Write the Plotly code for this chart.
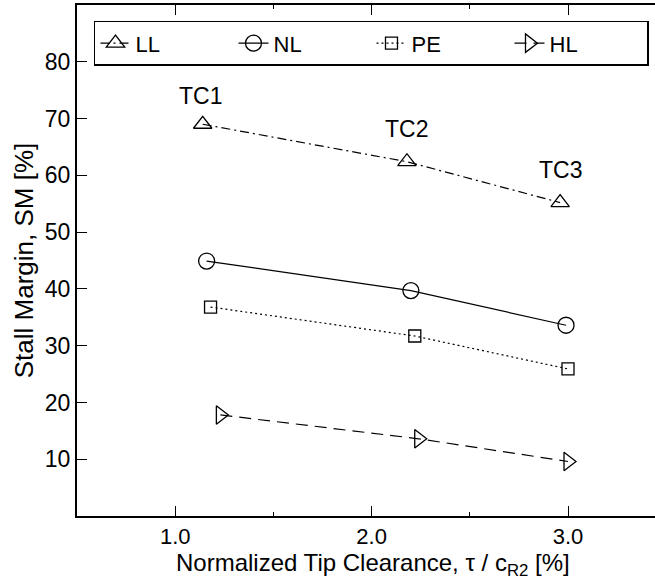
import plotly.graph_objects as go

# ---- data ----
series_names = ["LL", "NL", "PE", "HL"]
ll_x = [1.14, 2.18, 2.96]
ll_y = [69.0, 62.4, 55.2]
nl_x = [1.16, 2.20, 2.99]
nl_y = [44.9, 39.7, 33.6]
pe_x = [1.18, 2.22, 3.00]
pe_y = [36.8, 31.7, 25.9]
hl_x = [1.23, 2.24, 3.00]
hl_y = [17.8, 13.6, 9.6]

tc_labels = ["TC1", "TC2", "TC3"]
tc_x = [1.13, 2.18, 2.96]
tc_y = [74.0, 68.2, 60.9]

x_tickvals = [1.0, 2.0, 3.0]
x_ticktext = ["1.0", "2.0", "3.0"]
x_minor = [1.5, 2.5]
y_tickvals = [10, 20, 30, 40, 50, 60, 70, 80]

x_title = "Normalized Tip Clearance, τ / c<sub>R2</sub> [%]"
y_title = "Stall Margin, SM [%]"

FONT = "Liberation Sans, Arial, Helvetica, sans-serif"

fig = go.Figure()

styles = [
    (ll_x, ll_y, "9px,4px,2px,4px", "triangle-up-open", 16),
    (nl_x, nl_y, "solid", "circle-open", 16),
    (pe_x, pe_y, "2px,3px", "square-open", 12),
    (hl_x, hl_y, "12px,7px", "triangle-right-open", 16),
]
for name, (xs, ys, dash, sym, sz) in zip(series_names, styles):
    fig.add_trace(go.Scatter(
        x=xs, y=ys, name=name, mode="lines+markers",
        line=dict(color="black", width=1.2, dash=dash),
        marker=dict(symbol=sym, size=sz, color="black", line=dict(width=1.3, color="black")),
    ))

for t, xx, yy in zip(tc_labels, tc_x, tc_y):
    fig.add_annotation(x=xx, y=yy, text=t, showarrow=False,
                       font=dict(family=FONT, size=23, color="black"))

# x-axis title as a paper annotation (sits closer to tick labels like the reference)
fig.add_annotation(xref="paper", yref="paper", x=0.512, y=-0.062, xanchor="center", yanchor="top",
                   borderpad=0,
                   text=x_title, showarrow=False, font=dict(family=FONT, size=24, color="black"))

fig.update_layout(
    width=655, height=582,
    margin=dict(l=77, r=0, t=5, b=66),
    paper_bgcolor="white", plot_bgcolor="white",
    font=dict(family=FONT, size=23, color="black"),
    showlegend=True,
    legend=dict(
        orientation="h", x=0.9896, y=0.969, xanchor="right", yanchor="top",
        bordercolor="black", borderwidth=1.5, bgcolor="white",
        font=dict(family=FONT, size=22, color="black"),
        entrywidth=93, entrywidthmode="pixels",
    ),
    xaxis=dict(
        range=[0.5, 3.443], tickmode="array", tickvals=x_tickvals, ticktext=x_ticktext,
        ticks="inside", ticklen=10, tickwidth=1, tickcolor="black",
        minor=dict(tickmode="array", tickvals=x_minor, ticks="inside", ticklen=4, tickwidth=1, tickcolor="black"),
        showline=True, linewidth=2, linecolor="black", mirror="ticks",
        showgrid=False, zeroline=False,
        tickfont=dict(family=FONT, size=22),
    ),
    yaxis=dict(
        range=[0, 90], tickmode="array", tickvals=y_tickvals,
        ticks="inside", ticklen=10, tickwidth=1, tickcolor="black",
        showline=True, linewidth=2, linecolor="black", mirror=False,
        showgrid=False, zeroline=False,
        title=dict(text=y_title, standoff=4, font=dict(family=FONT, size=26)),
        tickfont=dict(family=FONT, size=23),
    ),
)

fig.write_html("out.html")
